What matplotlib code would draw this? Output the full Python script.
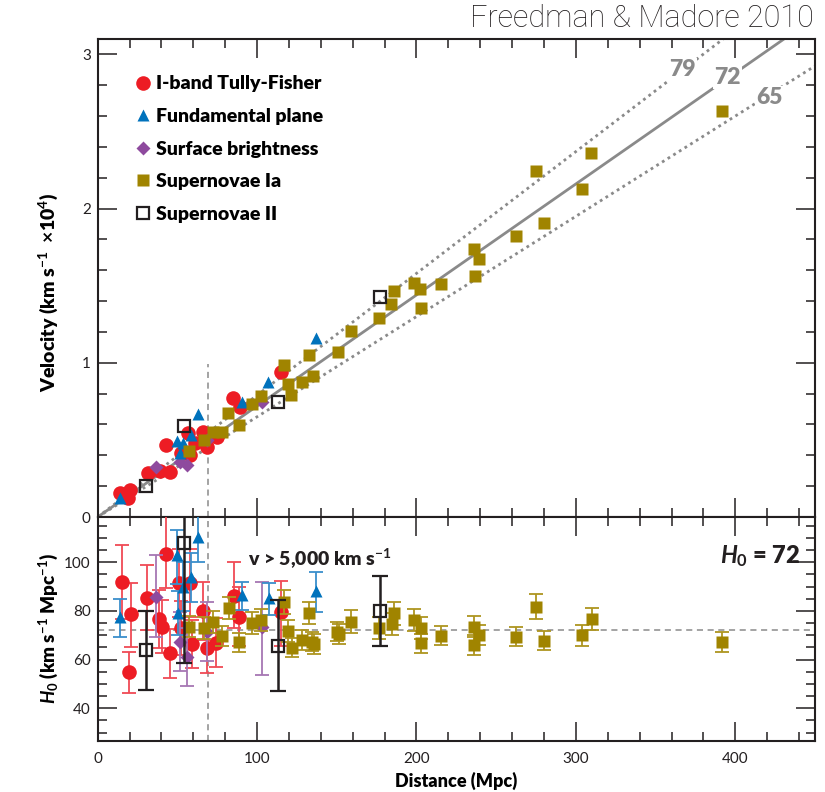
import numpy as np
import matplotlib
matplotlib.use("Agg")
import matplotlib.pyplot as plt
from matplotlib.ticker import MultipleLocator
from matplotlib.lines import Line2D

plt.rcParams['font.family'] = ['Lato', 'DejaVu Sans']
plt.rcParams['mathtext.fontset'] = 'custom'
plt.rcParams['mathtext.rm'] = 'Lato:bold'
plt.rcParams['mathtext.bf'] = 'Lato:bold'
plt.rcParams['mathtext.it'] = 'Lato:italic:bold'

# ---------------- data: upper panel (distance Mpc, velocity 1e4 km/s) ----------------
tf_d = [14.0, 20.2, 19.2, 31.4, 39.1, 45.4, 42.8, 52.3, 57.9, 56.9, 66.3, 61.0, 68.4, 74.7, 85.1, 89.3, 114.8]
tf_v = [0.154, 0.175, 0.121, 0.283, 0.300, 0.294, 0.467, 0.413, 0.400, 0.543, 0.553, 0.478, 0.456, 0.520, 0.770, 0.715, 0.942]

fp_d = [14.0, 49.5, 53.7, 58.5, 62.7, 51.6, 90.3, 107.0, 137.0]
fp_v = [0.121, 0.495, 0.478, 0.532, 0.666, 0.415, 0.748, 0.877, 1.159]

sb_d = [36.4, 51.6, 55.8, 68.4, 102.9]
sb_v = [0.326, 0.359, 0.337, 0.500, 0.748]

sn1_d = [57.3, 66.9, 72.5, 77.8, 82.0, 88.6, 96.6, 102.3, 117.1, 119.6, 121.5, 128.0, 132.8, 135.3,
         150.9, 159.1, 176.7, 184.0, 186.1, 198.4, 202.2, 202.8, 215.6, 236.3, 239.4, 236.5, 262.6,
         280.2, 275.2, 304.0, 309.7, 391.8]
sn1_v = [0.428, 0.500, 0.553, 0.549, 0.672, 0.597, 0.731, 0.785, 0.986, 0.862, 0.791, 0.875, 1.050, 0.914,
         1.072, 1.208, 1.290, 1.379, 1.468, 1.515, 1.481, 1.355, 1.509, 1.740, 1.675, 1.563, 1.824,
         1.905, 2.246, 2.125, 2.363, 2.635]

sn2_d = [30.3, 54.1, 113.3, 177.3]
sn2_v = [0.203, 0.590, 0.748, 1.425]

# ---------------- data: lower panel (distance Mpc, H0, error low, error high) ----------------
tfh_d = [15.1, 20.9, 19.6, 30.7, 42.8, 38.7, 40.1, 45.4, 51.0, 57.9, 52.3, 59.0, 66.3, 68.4, 74.0, 85.7, 88.6, 114.8]
tfh_h = [91.8, 78.6, 54.8, 85.2, 103.3, 76.7, 73.6, 62.6, 91.4, 91.6, 72.9, 66.4, 80.1, 64.7, 67.0, 86.2, 77.7, 79.7]
tfh_lo = [15.0, 13.3, 8.6, 13.0, 14.0, 12.0, 11.0, 10.2, 14.0, 14.0, 11.0, 10.0, 12.0, 10.0, 10.0, 13.0, 12.0, 14.0]
tfh_hi = [15.3, 13.0, 8.5, 13.7, 16.0, 12.0, 11.0, 10.0, 14.0, 14.0, 11.0, 10.0, 12.0, 10.0, 10.0, 14.0, 12.0, 12.7]

fph_d = [14.0, 49.5, 62.7, 58.3, 53.7, 50.6, 90.3, 107.6, 136.9]
fph_h = [77.4, 103.0, 110.5, 93.8, 90.0, 79.0, 86.6, 85.2, 88.2]
fph_lo = [8.2, 12.0, 10.3, 10.0, 10.0, 9.0, 6.2, 6.8, 8.5]
fph_hi = [7.5, 10.3, 12.0, 10.0, 10.0, 9.0, 5.4, 6.2, 7.7]

sbh_d = [36.4, 51.6, 55.8, 68.4, 102.9]
sbh_h = [85.9, 67.4, 61.0, 71.5, 73.6]
sbh_lo = [16.7, 12.0, 11.7, 12.0, 19.9]
sbh_hi = [17.1, 12.0, 12.0, 12.0, 18.2]

sn1h_d = [57.5, 66.9, 72.5, 77.8, 82.4, 88.6, 96.6, 102.3, 116.9, 119.6, 121.7, 128.0, 132.8, 134.2, 135.9,
          150.3, 151.6, 159.1, 176.7, 184.4, 186.1, 198.6, 202.6, 202.8, 215.6, 236.3, 239.2, 236.3,
          262.4, 275.0, 280.2, 303.6, 309.9, 391.8]
sn1h_h = [73.6, 72.9, 75.6, 69.7, 81.1, 67.1, 75.0, 76.3, 83.8, 71.9, 64.9, 68.1, 79.0, 67.4, 66.4,
          71.5, 70.5, 75.6, 72.9, 74.7, 79.0, 76.3, 72.9, 66.7, 69.9, 73.6, 70.1, 66.0,
          69.4, 81.8, 67.8, 70.1, 76.6, 67.4]
sn1h_err = [4.5, 4.5, 4.5, 4.0, 4.5, 4.0, 4.5, 4.5, 5.0, 4.5, 4.0, 4.0, 4.5, 4.0, 4.0,
            4.0, 4.0, 4.6, 4.5, 4.5, 4.6, 4.5, 4.5, 4.0, 4.0, 4.5, 4.0, 4.0,
            4.0, 5.0, 4.0, 4.3, 4.6, 4.1]

sn2h_d = [30.3, 54.3, 113.3, 177.1]
sn2h_h = [64.0, 107.8, 65.6, 80.1]
sn2h_lo = [16.4, 49.0, 18.5, 14.5]
sn2h_hi = [16.1, 15.0, 18.9, 14.4]

h0_lines = [79, 72, 65]
h0_best = 72
v_cut = 5000.0  # km/s

labels = ['I-band Tully-Fisher', 'Fundamental plane', 'Surface brightness', 'Supernovae Ia', 'Supernovae II']

# ---------------- style ----------------
RED, RED_E = '#ED1C24', '#F04A55'
BLUE, BLUE_E = '#0072BC', '#3A8FCB'
PURP, PURP_E = '#8E4A9E', '#A676B3'
OLIVE, OLIVE_E = '#A08400', '#AE9520'
BLACK = '#231F20'
GRAY = '#8A8A8A'
SP = '#231F20'

fig = plt.figure(figsize=(8.25, 7.92), dpi=100)
ax1 = fig.add_axes([0.1184, 0.3472, 0.8695, 0.6036])
ax2 = fig.add_axes([0.1184, 0.0648, 0.8695, 0.2824])

# ---- upper panel lines ----
dl = np.array([0.0, 450.0])
styles = {79: (0, (1, 1.4)), 72: '-', 65: (0, (1, 1.4))}
for h in h0_lines:
    ax1.plot(dl, h * dl / 1e4, color=GRAY, lw=2.0, ls=styles[h], zorder=1)
dcut = v_cut / h0_best
ax1.plot([dcut, dcut], [0, v_cut / 5000.0 * 0.99], color=GRAY, lw=1.1, ls=(0, (4, 3)), zorder=1)

lab_pos = {79: (367, 2.90), 72: (395, 2.85), 65: (421.5, 2.72)}
for h in h0_lines:
    ax1.text(lab_pos[h][0], lab_pos[h][1], str(h), color=GRAY, fontsize=16.5, fontweight='heavy',
             ha='center', va='center', zorder=2,
             bbox=dict(facecolor='white', edgecolor='none', pad=1.0))

# ---- upper panel points ----
ax1.plot(tf_d, tf_v, 'o', color=RED, ms=10.5, mec='none', zorder=3)
ax1.plot(sb_d, sb_v, 'D', color=PURP, ms=7.5, mec='none', zorder=4)
ax1.plot(fp_d, fp_v, '^', color=BLUE, ms=9, mec='none', zorder=5)
ax1.plot(sn1_d, sn1_v, 's', color=OLIVE, ms=8, mec='none', zorder=6)
ax1.plot(sn2_d, sn2_v, 's', mfc='none', mec=BLACK, mew=1.6, ms=8, zorder=7)

handles = [
    Line2D([], [], ls='none', marker='o', color=RED, ms=10.5, mec='none'),
    Line2D([], [], ls='none', marker='^', color=BLUE, ms=9, mec='none'),
    Line2D([], [], ls='none', marker='D', color=PURP, ms=7.5, mec='none'),
    Line2D([], [], ls='none', marker='s', color=OLIVE, ms=8, mec='none'),
    Line2D([], [], ls='none', marker='s', mfc='none', mec=BLACK, mew=1.6, ms=8),
]
leg = ax1.legend(handles, labels, loc='upper left', bbox_to_anchor=(0.0496, 0.9236), frameon=False,
                 prop={'family': ['Lato', 'DejaVu Sans'], 'weight': 'heavy', 'size': 14},
                 labelspacing=0.80, handletextpad=0.15, handlelength=1.0, borderaxespad=0, borderpad=0)

# ---- lower panel ----
ax2.axhline(h0_best, color=GRAY, lw=1.1, ls=(0, (4, 3)), zorder=1)
ax2.axvline(dcut, color=GRAY, lw=1.1, ls=(0, (4, 3)), zorder=1)

ekw = dict(capsize=5, elinewidth=1.3, capthick=1.3)
ax2.errorbar(tfh_d, tfh_h, yerr=[tfh_lo, tfh_hi], fmt='o', color=RED, ecolor=RED_E, ms=10.5, mec='none', zorder=3, **ekw)
ax2.errorbar(sbh_d, sbh_h, yerr=[sbh_lo, sbh_hi], fmt='D', color=PURP, ecolor=PURP_E, ms=7.5, mec='none', zorder=4, **ekw)
ax2.errorbar(fph_d, fph_h, yerr=[fph_lo, fph_hi], fmt='^', color=BLUE, ecolor=BLUE_E, ms=9, mec='none', zorder=5, **ekw)
ax2.errorbar(sn1h_d, sn1h_h, yerr=sn1h_err, fmt='s', color=OLIVE, ecolor=OLIVE_E, ms=8, mec='none', zorder=6, **ekw)
ax2.errorbar(sn2h_d, sn2h_h, yerr=[sn2h_lo, sn2h_hi], fmt='s', mfc='none', mec=BLACK, mew=1.6, color=BLACK,
             ecolor=BLACK, ms=8, zorder=7, capsize=6, elinewidth=1.8, capthick=1.8)

ax2.text(94.5, 101.5, 'v > 5,000 km s$^{-1}$', fontsize=14, fontweight='heavy', ha='left', va='center', color=BLACK)
ax2.text(441, 102.5, r'$H_0$ = 72', fontsize=17, fontweight='heavy', ha='right', va='center', color=BLACK)

# ---- axes formatting ----
for ax in (ax1, ax2):
    ax.set_xlim(0, 450)
    ax.xaxis.set_major_locator(MultipleLocator(100))
    ax.xaxis.set_minor_locator(MultipleLocator(20))
    ax.tick_params(which='both', direction='in', top=True, right=True, colors=SP, width=1.1)
    ax.tick_params(which='major', length=14, labelsize=11, pad=5)
    ax.tick_params(which='minor', length=6.5)
    for s in ax.spines.values():
        s.set_linewidth(1.5)
        s.set_color(SP)

ax1.set_ylim(0, 3.1)
ax1.yaxis.set_major_locator(MultipleLocator(1))
ax1.yaxis.set_minor_locator(MultipleLocator(0.2))
ax1.tick_params(axis='x', labelbottom=False)

ax2.set_ylim(26.7, 118.6)
ax2.yaxis.set_major_locator(MultipleLocator(20))
ax2.yaxis.set_minor_locator(MultipleLocator(5))
ax2.tick_params(axis='x', pad=8)

ax1.set_ylabel('Velocity (km s$^{-1}$  $\\times$10$^{4}$)', fontsize=14, fontweight='heavy')
ax2.set_ylabel(r'$H_0$ (km s$^{-1}$ Mpc$^{-1}$)', fontsize=13.5, fontweight='heavy')
ax2.set_xlabel('Distance (Mpc)', fontsize=13, fontweight='heavy', labelpad=4)
ax1.yaxis.set_label_coords(-0.052, 0.47)
ax2.yaxis.set_label_coords(-0.052, 0.5)

fig.text(0.987, 0.977, 'Freedman & Madore 2010', fontsize=22, fontweight='light',
         family=['Roboto', 'DejaVu Sans'], ha='right', va='center', color='#231F20')

fig.savefig('out.png', dpi=100)
